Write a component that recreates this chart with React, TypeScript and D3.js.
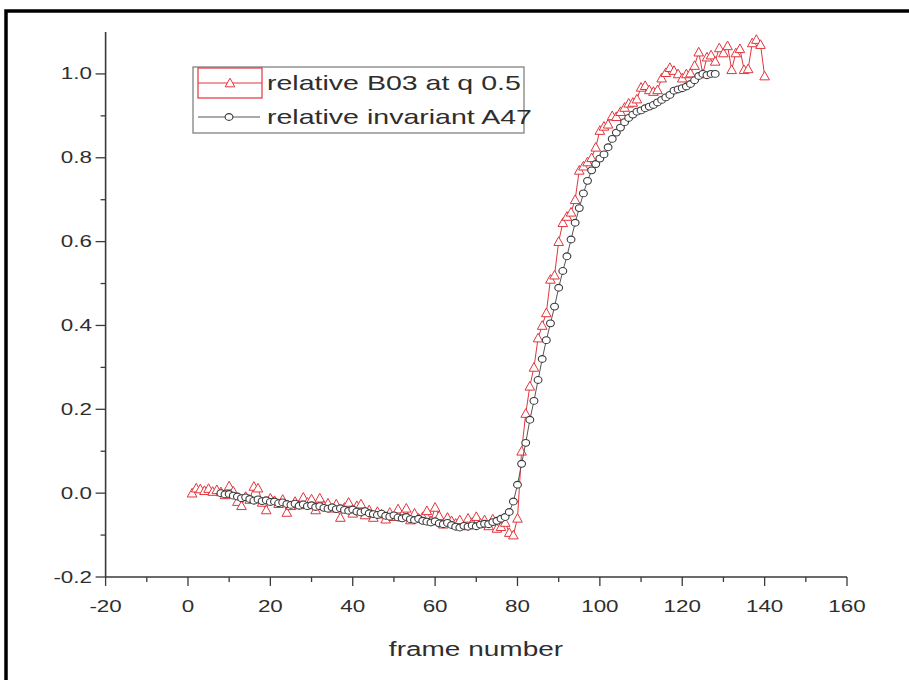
import React from "react";
import * as d3 from "d3";

const W = 909;
const H = 680;

const xTicks = [-20, 0, 20, 40, 60, 80, 100, 120, 140, 160];
const yTicks = [-0.2, 0.0, 0.2, 0.4, 0.6, 0.8, 1.0];
const xLabel = "frame number";
const legendNames = ["relative B03 at q 0.5", "relative invariant A47"];

const redStart = 1;
const redValues = [
  0.000, 0.012, 0.010, 0.006, 0.011, 0.004, 0.008, 0.003, -0.004, 0.017,
  0.005, -0.020, -0.030, -0.008, -0.015, 0.016, 0.012, -0.022, -0.040, -0.012,
  -0.018, -0.025, -0.015, -0.046, -0.030, -0.020, -0.028, -0.010, -0.022, -0.014,
  -0.040, -0.012, -0.030, -0.024, -0.036, -0.026, -0.058, -0.034, -0.022, -0.048,
  -0.030, -0.026, -0.052, -0.040, -0.058, -0.044, -0.050, -0.062, -0.046, -0.056,
  -0.038, -0.052, -0.036, -0.064, -0.048, -0.060, -0.056, -0.042, -0.066, -0.034,
  -0.054, -0.074, -0.058, -0.066, -0.072, -0.064, -0.078, -0.060, -0.070, -0.056,
  -0.072, -0.064, -0.078, -0.062, -0.084, -0.080, -0.070, -0.094, -0.100, -0.060,
  0.100, 0.190, 0.255, 0.300, 0.370, 0.400, 0.430, 0.510, 0.520, 0.600,
  0.645, 0.660, 0.670, 0.700, 0.770, 0.780, 0.790, 0.800, 0.825, 0.865,
  0.875, 0.880, 0.900, 0.898, 0.910, 0.920, 0.930, 0.932, 0.940, 0.968,
  0.972, 0.962, 0.958, 0.962, 0.990, 1.003, 1.015, 1.008, 1.000, 0.990,
  1.000, 1.002, 1.020, 1.052, 1.000, 1.040, 1.045, 1.030, 1.062, 1.050,
  1.067, 1.010, 1.050, 1.060, 1.010, 1.012, 1.074, 1.082, 1.070, 0.995,
];

const blackStart = 8;
const blackValues = [
  0.000, -0.003, -0.002, -0.006, -0.008, -0.012, -0.010, -0.014, -0.018, -0.015,
  -0.019, -0.017, -0.021, -0.020, -0.024, -0.022, -0.026, -0.028, -0.025, -0.030,
  -0.027, -0.031, -0.029, -0.033, -0.031, -0.035, -0.037, -0.034, -0.038, -0.036,
  -0.040, -0.042, -0.039, -0.044, -0.046, -0.043, -0.048, -0.050, -0.052, -0.049,
  -0.054, -0.056, -0.053, -0.058, -0.060, -0.057, -0.062, -0.064, -0.061, -0.066,
  -0.068, -0.070, -0.067, -0.072, -0.074, -0.071, -0.076, -0.080, -0.082, -0.078,
  -0.080, -0.077, -0.079, -0.075, -0.073, -0.074, -0.069, -0.066, -0.061, -0.057,
  -0.045, -0.020, 0.020, 0.070, 0.120, 0.175, 0.220, 0.270, 0.320, 0.365,
  0.405, 0.445, 0.490, 0.530, 0.565, 0.605, 0.645, 0.680, 0.715, 0.745,
  0.770, 0.785, 0.798, 0.808, 0.825, 0.845, 0.860, 0.872, 0.885, 0.895,
  0.903, 0.910, 0.913, 0.918, 0.922, 0.926, 0.932, 0.938, 0.944, 0.950,
  0.960, 0.963, 0.966, 0.970, 0.976, 0.985, 0.995, 1.000, 0.997, 1.000,
  1.000,
];

const RED = "#e2343c";
const DARK = "#3a3a3a";
const TEXT = "#2e2e2e";
const FONT = "'Liberation Sans', Arial, sans-serif";
const SX = 1.4;

type P = [number, number];

function STxt(props: {
  x: number;
  y: number;
  size: number;
  anchor?: string;
  children: React.ReactNode;
  fill?: string;
}) {
  const { x, y, size, anchor = "start", children, fill = TEXT } = props;
  return (
    <text
      transform={`translate(${x},${y}) scale(${SX},1)`}
      fontSize={size}
      fontFamily={FONT}
      textAnchor={anchor}
      fill={fill}
    >
      {children}
    </text>
  );
}

export default function App() {
  const x = d3.scaleLinear().domain([-20, 160]).range([105.6, 847]);
  const y = d3.scaleLinear().domain([-0.2, 1.1]).range([577, 32]);

  const red: P[] = redValues.map((v, i) => [redStart + i, v]);
  const black: P[] = blackValues.map((v, i) => [blackStart + i, v]);

  const line = d3
    .line<P>()
    .x((d) => x(d[0]))
    .y((d) => y(d[1]));

  const tri = (cx: number, cy: number, key: string | number) => {
    const s = 4.8;
    return (
      <path
        key={key}
        d={`M${cx},${cy - s}L${cx + s},${cy + s * 0.8}L${cx - s},${cy + s * 0.8}Z`}
        fill="white"
        stroke={RED}
        strokeWidth={1}
      />
    );
  };
  const circ = (cx: number, cy: number, key: string | number) => (
    <ellipse
      key={key}
      cx={cx}
      cy={cy}
      rx={3.9}
      ry={3.4}
      fill="white"
      stroke={DARK}
      strokeWidth={1.1}
    />
  );

  const xMinor = d3.range(-20, 161, 10);
  const yMinor = d3.range(-2, 11, 1).map((d) => d / 10);

  return (
    <svg
      width={W}
      height={H}
      style={{ position: "absolute", left: 0, top: 0, background: "white" }}
    >
      <rect x={0} y={0} width={W} height={H} fill="white" />
      {/* outer frame */}
      <rect x={6} y={11} width={W + 20} height={H + 20} fill="none" stroke="#000" strokeWidth={3.5} />

      {/* red series */}
      <path d={line(red) || ""} fill="none" stroke={RED} strokeWidth={1} />
      {red.map((d, i) => tri(x(d[0]), y(d[1]), "r" + i))}

      {/* black series */}
      <path d={line(black) || ""} fill="none" stroke="#555" strokeWidth={1} />
      {black.map((d, i) => circ(x(d[0]), y(d[1]), "b" + i))}

      {/* axes */}
      <line x1={x(-20)} x2={x(160)} y1={y(-0.2)} y2={y(-0.2)} stroke={DARK} strokeWidth={1.6} />
      <line x1={x(-20)} x2={x(-20)} y1={y(-0.2)} y2={y(1.1)} stroke={DARK} strokeWidth={1.6} />
      {xMinor.map((t) => {
        const major = xTicks.includes(t);
        return (
          <line
            key={"xt" + t}
            x1={x(t)}
            x2={x(t)}
            y1={y(-0.2)}
            y2={y(-0.2) + (major ? 9 : 5)}
            stroke={DARK}
            strokeWidth={1.3}
          />
        );
      })}
      {yMinor.map((t) => {
        const major = Math.round(t * 10) % 2 === 0;
        return (
          <line
            key={"yt" + t}
            x1={x(-20)}
            x2={x(-20) - (major ? 10 : 5)}
            y1={y(t)}
            y2={y(t)}
            stroke={DARK}
            strokeWidth={1.3}
          />
        );
      })}
      {xTicks.map((t) => (
        <STxt key={"xl" + t} x={x(t)} y={612} size={16} anchor="middle">
          {String(t)}
        </STxt>
      ))}
      {yTicks.map((t) => (
        <STxt key={"yl" + t} x={92} y={y(t) + 5.5} size={16} anchor="end">
          {t.toFixed(1)}
        </STxt>
      ))}
      <STxt x={476} y={656} size={20} anchor="middle">
        {xLabel}
      </STxt>

      {/* legend */}
      <rect x={193} y={67} width={331} height={66} fill="white" stroke="#777" strokeWidth={1.2} />
      <rect x={198} y={68} width={64} height={30} fill="none" stroke={RED} strokeWidth={1.2} />
      <line x1={198} x2={262} y1={83} y2={83} stroke={RED} strokeWidth={1} />
      {tri(230, 83, "lt")}
      <line x1={198} x2={260} y1={117} y2={117} stroke="#555" strokeWidth={1} />
      {circ(229, 117, "lc")}
      <STxt x={267} y={90} size={20.4}>
        {legendNames[0]}
      </STxt>
      <STxt x={267} y={124} size={20.4}>
        {legendNames[1]}
      </STxt>
    </svg>
  );
}
